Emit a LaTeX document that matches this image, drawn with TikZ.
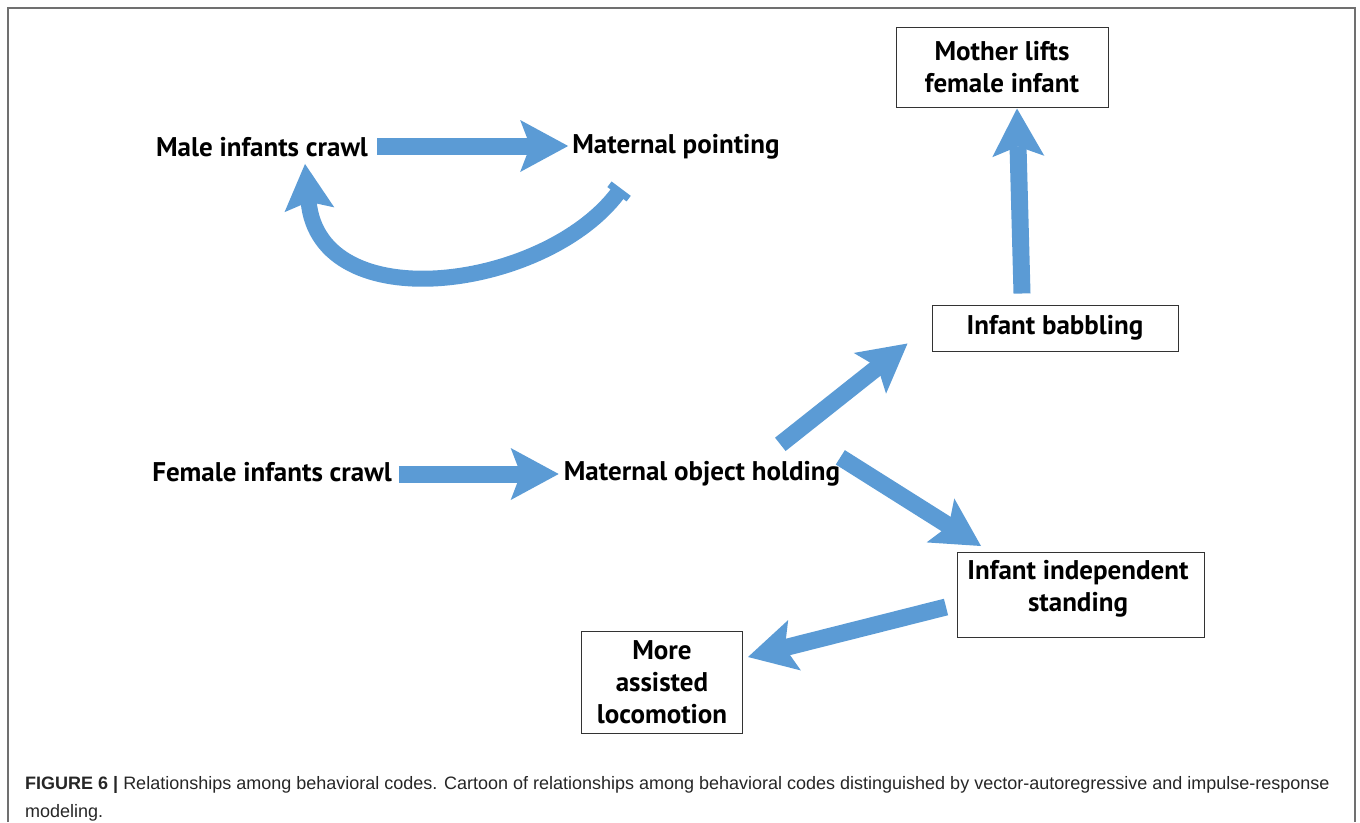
\documentclass[tikz,border=0pt]{standalone}
\usepackage{fontspec}
\setmainfont{PT Sans}
\newfontfamily\capfont{Liberation Sans}
\usetikzlibrary{arrows.meta,calc}
\definecolor{arrowblue}{HTML}{5B9BD5}
\definecolor{framegray}{HTML}{707070}
\tikzset{
  lbl/.style={inner sep=0pt, font=\fontsize{27}{32}\selectfont\bfseries, align=center},
  boxnode/.style={draw=black!80, line width=1pt, inner sep=0pt, align=center, font=\fontsize{27}{32}\selectfont\bfseries},
  bigtip/.style={-{Stealth[length=48pt,width=52pt,inset=10pt,line width=0pt]}},
  bigarrow/.style={draw=arrowblue, line width=17pt, bigtip},
  captext/.style={anchor=base west, inner sep=0pt, font=\capfont\fontsize{18}{28}\selectfont, text=black!85},
}
\begin{document}
\begin{tikzpicture}[x=1pt,y=-1pt]
\useasboundingbox (0,0) rectangle (1360,822);
\draw[framegray, line width=1.5pt] (8,822) -- (8,8) -- (1355,8) -- (1355,822);

\node[lbl] (male) at (262,147) {Male infants crawl};
\node[lbl] (mpoint) at (676,147) {Maternal pointing};
\node[lbl] (female) at (272,472) {Female infants crawl};
\node[lbl] (mhold) at (702,474) {Maternal object holding};
\node[boxnode, minimum width=246pt, minimum height=46pt] (babble) at (1055,328) {Infant babbling};
\node[boxnode, minimum width=212pt, minimum height=80pt] (lifts) at (1002,67) {Mother lifts\\female infant};
\node[boxnode, minimum width=247pt, minimum height=85pt] (stand) at (1081,595) {};
\node[lbl] (standtxt) at (1078,589) {Infant independent\\standing};
\node[boxnode, minimum width=161pt, minimum height=102pt] (more) at (662,682) {More\\assisted\\locomotion};

% arrows
\coordinate (m1) at ($(male.east)+(9,-1)$);
\coordinate (p1) at ($(mpoint.west)+(-4,-2)$);
\draw[bigarrow] (m1) -- (m1 -| p1);
\draw[draw=arrowblue, line width=16pt, {Bar[width=24pt,line width=7pt]}-{Stealth[length=46pt,width=50pt,inset=8pt,line width=0pt]}]
  ($(mpoint.south west)+(49,29)$) .. controls (545,290) and (320,320) .. ($(male.south)+(43,7)$);
\coordinate (f1) at ($(female.east)+(7,2)$);
\coordinate (h1) at ($(mhold.west)+(-5,0)$);
\draw[bigarrow] (f1) -- (f1 -| h1);
\draw[bigarrow] ($(mhold.north east)+(-60,-17)$) -- ($(babble.south west)+(-24,-8)$);
\draw[bigarrow] ($(mhold.north east)+(0,-4)$) -- ($(stand.north west)+(24,-6)$);
\draw[bigarrow] ($(babble.north)+(-33,-11)$) -- ($(lifts.south)+(15,1)$);
\draw[bigarrow] ($(stand.west)+(-11,12)$) -- ($(more.east)+(5,-25)$);

\node[captext] (cap1) at (25,789)
  {\textbf{FIGURE 6 |} Relationships among behavioral codes. Cartoon of relationships among behavioral codes distinguished by vector-autoregressive and impulse-response};
\node[captext] (cap2) at (25,817) {modeling.};
\end{tikzpicture}
\end{document}
